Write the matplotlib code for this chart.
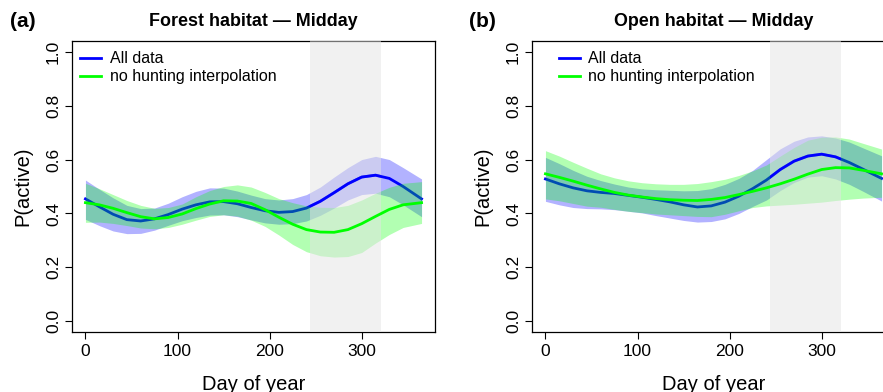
import numpy as np
import matplotlib
matplotlib.use("Agg")
import matplotlib.pyplot as plt

plt.rcParams['font.family'] = ['Liberation Sans', 'DejaVu Sans']

# day of year grid
days = [0, 15, 30, 45, 60, 75, 90, 105, 120, 135, 150, 165, 180,
        195, 210, 225, 240, 255, 270, 285, 300, 315, 330, 345, 365]

# (a) forest habitat
forest_all = [0.454, 0.425, 0.397, 0.377, 0.372, 0.380, 0.396, 0.416, 0.432, 0.443, 0.444, 0.436, 0.422,
              0.410, 0.404, 0.407, 0.420, 0.445, 0.477, 0.510, 0.535, 0.542, 0.530, 0.500, 0.454]
forest_all_hi = [0.524, 0.490, 0.458, 0.430, 0.418, 0.420, 0.438, 0.462, 0.482, 0.495, 0.494, 0.483, 0.468,
                 0.455, 0.450, 0.455, 0.470, 0.498, 0.535, 0.570, 0.600, 0.612, 0.600, 0.570, 0.528]
forest_all_lo = [0.378, 0.355, 0.335, 0.325, 0.326, 0.338, 0.356, 0.373, 0.385, 0.394, 0.395, 0.388, 0.376,
                 0.365, 0.360, 0.362, 0.372, 0.393, 0.420, 0.450, 0.470, 0.475, 0.462, 0.432, 0.388]
forest_nh = [0.440, 0.432, 0.419, 0.403, 0.388, 0.380, 0.385, 0.398, 0.418, 0.435, 0.447, 0.446, 0.437,
             0.414, 0.386, 0.360, 0.340, 0.331, 0.330, 0.340, 0.362, 0.389, 0.415, 0.432, 0.440]
forest_nh_hi = [0.512, 0.492, 0.470, 0.448, 0.430, 0.419, 0.422, 0.435, 0.462, 0.485, 0.500, 0.506, 0.498,
                0.478, 0.455, 0.440, 0.428, 0.423, 0.422, 0.430, 0.450, 0.475, 0.497, 0.512, 0.518]
forest_nh_lo = [0.367, 0.368, 0.363, 0.355, 0.346, 0.343, 0.348, 0.360, 0.375, 0.389, 0.395, 0.390, 0.375,
                0.352, 0.320, 0.285, 0.258, 0.243, 0.238, 0.240, 0.255, 0.290, 0.322, 0.348, 0.363]

# (b) open habitat
open_all = [0.528, 0.510, 0.495, 0.484, 0.478, 0.474, 0.467, 0.460, 0.452, 0.443, 0.432, 0.424, 0.428,
            0.442, 0.464, 0.492, 0.524, 0.563, 0.594, 0.613, 0.620, 0.610, 0.589, 0.564, 0.530]
open_all_hi = [0.608, 0.585, 0.560, 0.538, 0.522, 0.509, 0.498, 0.491, 0.488, 0.486, 0.484, 0.485, 0.492,
               0.508, 0.530, 0.560, 0.600, 0.640, 0.668, 0.684, 0.688, 0.680, 0.665, 0.643, 0.614]
open_all_lo = [0.445, 0.432, 0.422, 0.418, 0.417, 0.414, 0.408, 0.402, 0.392, 0.383, 0.374, 0.368, 0.370,
               0.380, 0.400, 0.426, 0.450, 0.485, 0.515, 0.535, 0.540, 0.528, 0.508, 0.482, 0.446]
open_nh = [0.547, 0.534, 0.520, 0.505, 0.491, 0.478, 0.468, 0.461, 0.455, 0.451, 0.449, 0.448, 0.452,
           0.459, 0.470, 0.482, 0.495, 0.510, 0.527, 0.546, 0.563, 0.570, 0.569, 0.560, 0.547]
open_nh_hi = [0.633, 0.613, 0.590, 0.568, 0.547, 0.532, 0.521, 0.514, 0.510, 0.508, 0.508, 0.511, 0.518,
              0.527, 0.541, 0.558, 0.580, 0.613, 0.645, 0.672, 0.683, 0.684, 0.676, 0.660, 0.639]
open_nh_lo = [0.454, 0.447, 0.437, 0.427, 0.423, 0.415, 0.408, 0.403, 0.398, 0.395, 0.392, 0.389, 0.388,
              0.397, 0.410, 0.422, 0.428, 0.431, 0.434, 0.438, 0.442, 0.448, 0.453, 0.457, 0.460]

hunt_start, hunt_end = 244, 321
titles = ["Forest habitat \u2014 Midday", "Open habitat \u2014 Midday"]
tags = ["(a)", "(b)"]
labels = ["All data", "no hunting interpolation"]

fig = plt.figure(figsize=(8.83, 3.92), dpi=100)
W, H = 883.0, 392.0
ax_a = fig.add_axes([72 / W, (H - 332) / H, 363 / W, 291 / H])
ax_b = fig.add_axes([532 / W, (H - 332) / H, 363 / W, 291 / H])

panels = [
    (ax_a, forest_all, forest_all_lo, forest_all_hi, forest_nh, forest_nh_lo, forest_nh_hi, 0.022),
    (ax_b, open_all, open_all_lo, open_all_hi, open_nh, open_nh_lo, open_nh_hi, 0.074),
]

for i, (ax, a, alo, ahi, n, nlo, nhi, lx) in enumerate(panels):
    ax.fill_between(days, alo, ahi, color='blue', alpha=0.3, lw=0, zorder=1)
    l1, = ax.plot(days, a, color='blue', lw=2.0, zorder=2, solid_joinstyle='round')
    ax.fill_between(days, nlo, nhi, color='#00FF00', alpha=0.3, lw=0, zorder=3)
    span = ax.axvspan(hunt_start, hunt_end, color='#E5E5E5', alpha=0.5, lw=0, zorder=4)
    # blue line stays crisp inside the shaded hunting window
    top, = ax.plot(days, a, color='blue', lw=2.0, zorder=4.5, solid_joinstyle='round')
    top.set_clip_path(span)
    l2, = ax.plot(days, n, color='#00FF00', lw=2.0, zorder=5, solid_joinstyle='round')

    ax.set_xlim(-14.6, 379.6)
    ax.set_ylim(-0.04, 1.04)
    ax.set_xticks([0, 100, 200, 300])
    ax.set_yticks([0.0, 0.2, 0.4, 0.6, 0.8, 1.0])
    ax.set_yticklabels(["0.0", "0.2", "0.4", "0.6", "0.8", "1.0"])
    ax.tick_params(axis='both', direction='out', length=5, width=0.8, labelsize=12.5)
    ax.tick_params(axis='x', pad=4)
    ax.tick_params(axis='y', pad=3, labelrotation=90)
    for t in ax.get_yticklabels():
        t.set_va('center')
    for s in ax.spines.values():
        s.set_linewidth(0.9)

    ax.set_xlabel("Day of year", fontsize=14.5, labelpad=11)
    ax.set_ylabel("P(active)", fontsize=14.5, labelpad=10)
    ax.set_title(titles[i], fontsize=12.9, fontweight='bold', pad=10.5)

    ax.legend([l1, l2], labels, loc='upper left', bbox_to_anchor=(lx, 0.965),
              frameon=False, fontsize=11.5, borderpad=0, borderaxespad=0,
              handlelength=1.3, handletextpad=0.55, labelspacing=0.2)

fig.text(10 / W, 1 - 27 / H, tags[0], fontsize=15, fontweight='bold', va='baseline')
fig.text(469 / W, 1 - 27 / H, tags[1], fontsize=15, fontweight='bold', va='baseline')

fig.savefig("out.png", dpi=100)
